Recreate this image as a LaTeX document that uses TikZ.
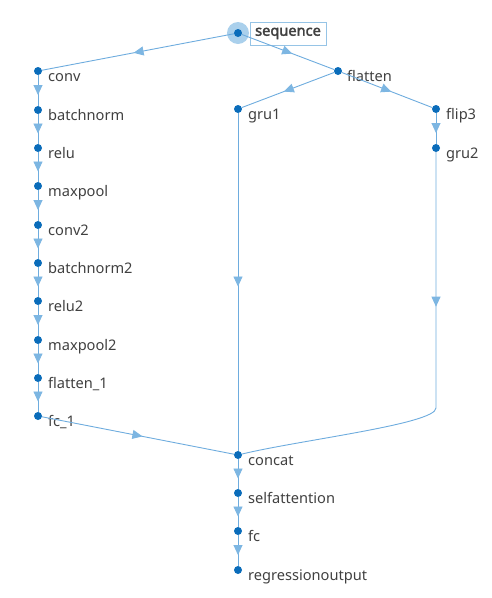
\documentclass[tikz,border=0pt]{standalone}
\usepackage{fontspec}
\setmainfont{Noto Sans}
\newfontfamily\seqbold{Noto Sans}[FakeBold=2.2]
\usetikzlibrary{arrows.meta,decorations.markings}
\definecolor{edgeblue}{RGB}{110,172,222}
\definecolor{arrowblue}{RGB}{125,182,226}
\definecolor{dotblue}{RGB}{10,108,186}
\definecolor{halo}{RGB}{170,208,236}
\definecolor{boxblue}{RGB}{150,196,230}
\definecolor{txtgray}{RGB}{64,64,64}
\tikzset{
  dotnode/.style={circle, fill=dotblue, inner sep=0pt, minimum size=8pt},
  lab/.style={anchor=base west, text=txtgray, inner sep=0pt, font=\fontsize{14.6}{17}\selectfont},
  conn/.style={draw=edgeblue, line width=0.9pt, postaction={decorate},
    decoration={markings, mark=at position #1 with {\arrow[arrowblue,xshift=4.5pt]{Triangle[width=9pt,length=10pt]}}}},
  conn/.default=0.5
}
\begin{document}
\begin{tikzpicture}[x=1pt,y=-1pt]
\useasboundingbox (0,0) rectangle (491,598);
% halo
\fill[halo] (238,33) circle (11);
% dots
\node[dotnode] (sequence) at (238,33) {};
\node[dotnode] (conv) at (38,71) {};
\node[dotnode] (batchnorm) at (38,110) {};
\node[dotnode] (relu) at (38,148) {};
\node[dotnode] (maxpool) at (38,186) {};
\node[dotnode] (conv2) at (38,225) {};
\node[dotnode] (batchnorm2) at (38,263) {};
\node[dotnode] (relu2) at (38,301) {};
\node[dotnode] (maxpool2) at (38,340) {};
\node[dotnode] (flatten1) at (38,378) {};
\node[dotnode] (fc1) at (38,416) {};
\node[dotnode] (flatten) at (338,71) {};
\node[dotnode] (gru1) at (238,109) {};
\node[dotnode] (flip3) at (436,109) {};
\node[dotnode] (gru2) at (436,148) {};
\node[dotnode] (concat) at (238,455) {};
\node[dotnode] (selfatt) at (238,493) {};
\node[dotnode] (fc) at (238,531) {};
\node[dotnode] (regout) at (238,570) {};
% labels
\node[draw=boxblue, line width=1pt, fill=white, inner sep=0pt, minimum width=76pt, minimum height=23pt,
      text=txtgray, font=\fontsize{14.6}{17}\seqbold] (seq-l) at (288,33.5) {sequence};
\node[lab] (conv-l) at (48,81) {conv};
\node[lab] (batchnorm-l) at (48,120) {batchnorm};
\node[lab] (relu-l) at (48,158) {relu};
\node[lab] (maxpool-l) at (48,196) {maxpool};
\node[lab] (conv2-l) at (48,235) {conv2};
\node[lab] (batchnorm2-l) at (48,273) {batchnorm2};
\node[lab] (relu2-l) at (48,311) {relu2};
\node[lab] (maxpool2-l) at (48,350) {maxpool2};
\node[lab] (flatten1-l) at (48,388) {flatten\_1};
\node[lab] (fc1-l) at (48,426) {fc\_1};
\node[lab] (flatten-l) at (347,81) {flatten};
\node[lab] (gru1-l) at (248,119) {gru1};
\node[lab] (flip3-l) at (446,119) {flip3};
\node[lab] (gru2-l) at (446,158) {gru2};
\node[lab] (concat-l) at (248,465) {concat};
\node[lab] (selfatt-l) at (248,503) {selfattention};
\node[lab] (fc-l) at (248,541) {fc};
\node[lab] (regout-l) at (248,580) {regressionoutput};
% connectors
\draw[conn] (sequence) -- (conv);
\draw[conn] (sequence) -- (flatten);
\draw[conn] (flatten) -- (gru1);
\draw[conn] (flatten) -- (flip3);
\draw[conn] (flip3) -- (gru2);
\draw[conn] (conv) -- (batchnorm);
\draw[conn] (batchnorm) -- (relu);
\draw[conn] (relu) -- (maxpool);
\draw[conn] (maxpool) -- (conv2);
\draw[conn] (conv2) -- (batchnorm2);
\draw[conn] (batchnorm2) -- (relu2);
\draw[conn] (relu2) -- (maxpool2);
\draw[conn] (maxpool2) -- (flatten1);
\draw[conn] (flatten1) -- (fc1);
\draw[conn] (fc1) -- (concat);
\draw[conn] (gru1) -- (concat);
\draw[conn=150pt] (gru2) -- (436,408) .. controls (436,424) and (300,440) .. (concat);
\draw[conn] (concat) -- (selfatt);
\draw[conn] (selfatt) -- (fc);
\draw[conn] (fc) -- (regout);
\end{tikzpicture}
\end{document}
